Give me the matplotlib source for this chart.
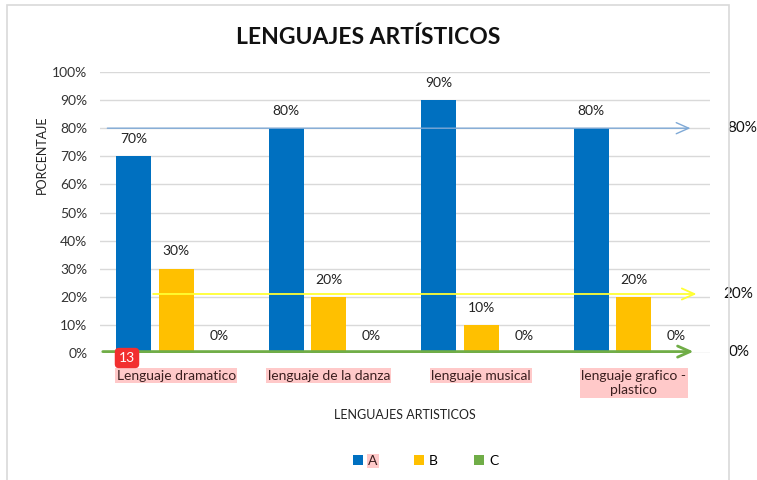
import matplotlib.pyplot as plt
from matplotlib.patches import Rectangle
from matplotlib.ticker import PercentFormatter

plt.rcParams['font.family'] = ['Lato', 'DejaVu Sans']

categories = ['Lenguaje dramatico', 'lenguaje de la danza', 'lenguaje musical',
              'lenguaje grafico -\nplastico']
serie_a = [0.70, 0.80, 0.90, 0.80]
serie_b = [0.30, 0.20, 0.10, 0.20]
serie_c = [0.0, 0.0, 0.0, 0.0]
series_names = ['A', 'B', 'C']
colors = ['#0070C0', '#FFC000', '#70AD47']

# reference arrows drawn across the chart
ref_levels = [0.80, 0.21, 0.005]
ref_labels = ['80%', '20%', '0%']
ref_colors = ['#7fa9d6', '#ffff33', '#70AD47']
ref_start = [-0.47, -0.17, -0.5]
ref_end = [3.39, 3.43, 3.41]
ref_width = [1.0, 1.3, 2.0]
ref_text_x = [3.61, 3.59, 3.62]

W, H = 757, 480
fig = plt.figure(figsize=(W / 100, H / 100), dpi=100)
fig.patches.append(Rectangle((7 / W, -0.1), 722 / W, 1.1 - 5 / H, transform=fig.transFigure,
                             fill=False, edgecolor='#d9d9d9', linewidth=1.2))

ax = fig.add_axes([100 / W, 1 - 353 / H, 610 / W, 281 / H])
x = list(range(len(categories)))
width = 0.23
off = 0.28
for k, vals in enumerate([serie_a, serie_b, serie_c]):
    xs = [i + (k - 1) * off for i in x]
    ax.bar(xs, vals, width, color=colors[k], label=series_names[k], zorder=3)
    for xi, v in zip(xs, vals):
        ax.text(xi, v + 0.04, f'{v:.0%}', ha='center', va='bottom', fontsize=10, color='#222222', zorder=5)

for lvl, c, x0, x1, lw in zip(ref_levels, ref_colors, ref_start, ref_end, ref_width):
    ax.annotate('', xy=(x1, lvl), xytext=(x0, lvl),
                arrowprops=dict(arrowstyle='->,head_length=0.9,head_width=0.4', color=c, lw=lw),
                zorder=4, annotation_clip=False)

ax.set_xlim(-0.5, 3.5)
ax.set_ylim(0, 1.0)
ax.set_yticks([i / 10 for i in range(11)])
ax.yaxis.set_major_formatter(PercentFormatter(1.0, decimals=0))
ax.tick_params(axis='y', length=0, labelsize=10, labelcolor='#333333', pad=9)
ax.set_xticks([])
ax.grid(axis='y', color='#d9d9d9', linewidth=1, zorder=0)
for s in ax.spines.values():
    s.set_visible(False)

for i, cat in enumerate(categories):
    ax.text(i, -0.06, cat, ha='center', va='top', fontsize=10, color='#3b1f1f', linespacing=1.25,
            bbox=dict(boxstyle='square,pad=0.1', facecolor='#ffc9c9', edgecolor='none'))

for lvl, lab, tx in zip(ref_levels, ref_labels, ref_text_x):
    ax.text(tx, lvl, lab, ha='left', va='center', fontsize=11, color='#111111',
            bbox=dict(boxstyle='square,pad=0.05', facecolor='white', edgecolor='none'))

fig.text(368 / W, 1 - 37 / H, 'LENGUAJES ARTÍSTICOS', ha='center', va='center',
         fontsize=16.5, fontweight='bold', color='#111111')
fig.text(42 / W, 1 - 155 / H, 'PORCENTAJE', rotation=90, ha='center', va='center',
         fontsize=9, color='#222222')
fig.text(405 / W, 1 - 415 / H, 'LENGUAJES ARTISTICOS', ha='center', va='center',
         fontsize=9, color='#222222')
fig.text(127 / W, 1 - 358 / H, '13', ha='center', va='center', fontsize=10, color='white',
         bbox=dict(boxstyle='round,pad=0.3,rounding_size=0.3', facecolor='#f22f2f', edgecolor='none'))

leg = ax.legend(loc='center', bbox_to_anchor=(426 / W, 1 - 461 / H), bbox_transform=fig.transFigure,
                ncol=3, frameon=False, fontsize=10, handlelength=0.7, handleheight=0.7,
                handletextpad=0.4, columnspacing=2.6)
leg.get_texts()[0].set_bbox(dict(boxstyle='square,pad=0.1', facecolor='#ffc9c9', edgecolor='none'))
leg.get_texts()[0].set_color('#3b1f1f')

fig.savefig('out.png', dpi=100)
